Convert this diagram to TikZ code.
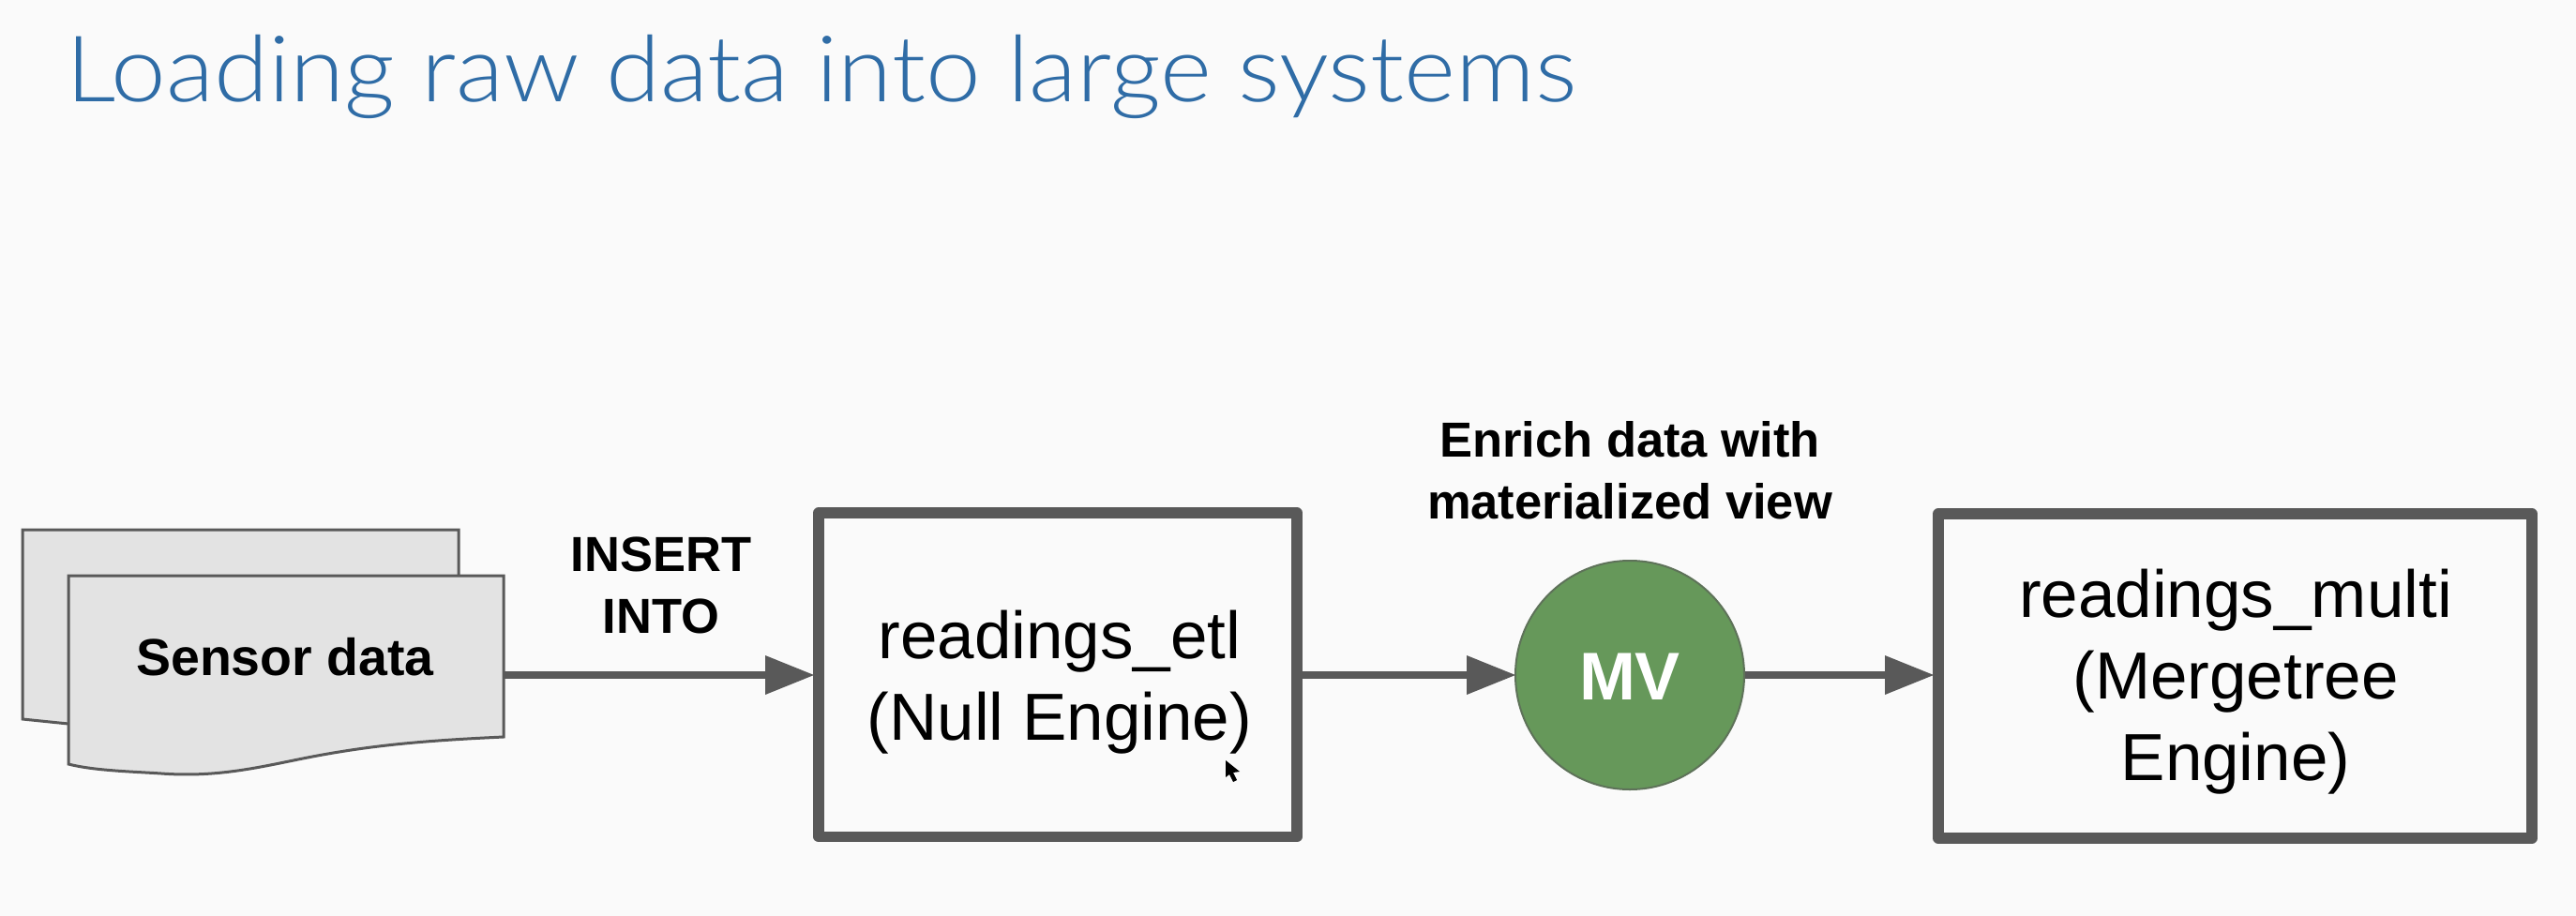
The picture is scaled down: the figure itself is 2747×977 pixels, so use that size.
\documentclass[tikz,border=0pt]{standalone}
\usepackage{fontspec}
\setmainfont{Liberation Sans}
\newfontfamily\titlefont[UprightFont=* Light,FakeStretch=1.075]{Lato}
\usetikzlibrary{arrows.meta}
\definecolor{bgc}{HTML}{FAFAFA}
\definecolor{linec}{HTML}{595959}
\definecolor{sheetc}{HTML}{E3E3E3}
\definecolor{mvc}{HTML}{66985A}
\definecolor{titlec}{HTML}{2F6CA6}
\tikzset{
  x=1pt,y=-1pt,
  box/.style={draw=linec,line width=11.5pt,fill=bgc,line join=round},
  sheet/.style={draw=linec,line width=3pt,fill=sheetc,line join=miter},
  conn/.style={draw=linec,line width=8.5pt,-{Triangle[length=52pt,width=42pt,line width=0pt]},shorten >=-1pt},
  lab/.style={align=center,inner sep=0pt,anchor=base,font=\fontsize{71}{87}\selectfont},
  blab/.style={align=center,inner sep=0pt,anchor=base,font=\fontsize{52.5}{66}\selectfont\bfseries},
}
\begin{document}
\begin{tikzpicture}
\useasboundingbox[fill=bgc] (0,0) rectangle (2747,977);
\node[anchor=base west,inner sep=0pt,text=titlec,font=\fontsize{98}{110}\selectfont\titlefont] (title) at (70,108) {Loading raw data into large systems};
% sheets
\draw[sheet] (24,565) -- (489,565) -- (489,640) -- (73,772) -- (24,767) -- cycle;
\draw[sheet] (73,614) -- (537,614) -- (537,786)
   .. controls (450,790) and (400,795) .. (344,805)
   .. controls (288,815) and (240,830) .. (172,825)
   .. controls (142,823) and (100,822) .. (73,815) -- cycle;
\node[blab,font=\fontsize{55.5}{60}\selectfont\bfseries] (sensor) at (304,720) {Sensor data};
\coordinate (sheetR) at (537,720);
% boxes
\draw[box] (873,547) rectangle (1383,892.5);
\coordinate (b1L) at (867,720); \coordinate (b1R) at (1389,720);
\node[lab] (etl) at (1130,789) {readings\_etl\\(Null Engine)};
\draw[box] (2067,548) rectangle (2700,894);
\coordinate (b2L) at (2061,720);
\node[lab] (multi) at (2384,832) {readings\_multi\\(Mergetree\\Engine)};
% MV
\node[circle,fill=mvc,draw=linec!60!mvc,line width=2pt,minimum size=244pt,inner sep=0pt] (mv) at (1738,720) {};
\node[inner sep=0pt,anchor=base,text=white,font=\fontsize{72}{80}\selectfont\bfseries] (mvt) at (1738,746) {MV};
% labels
\node[blab] (ins) at (705,675) {INSERT\\INTO};
\node[blab] (enr) at (1738,553) {Enrich data with\\materialized view};
% connectors
\draw[conn] (sheetR) -- (b1L);
\draw[conn] (b1R) -- (mv.west);
\draw[conn] (mv.east) -- (b2L);
% cursor
\fill[black] (1307,811) -- (1307,829) -- (1311,826) -- (1315,834) -- (1319,832) -- (1315,824) -- (1322,823) -- cycle;
\end{tikzpicture}
\end{document}
